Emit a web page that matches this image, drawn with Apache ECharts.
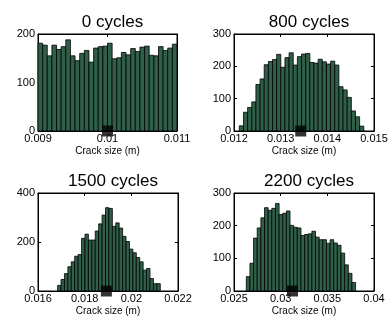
<!DOCTYPE html>
<html>
<head>
<meta charset="utf-8">
<script src="https://cdn.jsdelivr.net/npm/echarts@6/dist/echarts.min.js"></script>
<style>
  html, body { margin: 0; padding: 0; background: #fff; }
  #chart { width: 392px; height: 325px; }
</style>
</head>
<body>
<div id="chart"></div>
<script>
// panel data
var titles = ['0 cycles', '800 cycles', '1500 cycles', '2200 cycles'];
var xMin = [0.009, 0.012, 0.016, 0.025];
var xMax = [0.011, 0.015, 0.022, 0.04];
var xStep = [0.001, 0.001, 0.002, 0.005];
var yMax = [200, 300, 400, 300];
var yStep = [100, 100, 200, 100];

// histogram range of each panel (first bin start, last bin end)
var binLo = [0.009, 0.012114, 0.01684, 0.026318];
var binHi = [0.011, 0.014781, 0.02124, 0.038029];

var counts0 = [181, 177, 155, 177, 168, 174, 188, 155, 145, 160, 166, 142, 171, 174, 175,
               181, 149, 151, 162, 157, 170, 164, 173, 175, 156, 155, 174, 166, 171, 179];
var counts800 = [16, 58, 73, 90, 144, 161, 205, 215, 221, 237, 197, 227, 242, 204, 230,
                 238, 240, 212, 210, 222, 214, 207, 216, 204, 137, 127, 104, 62, 44, 15];
var counts1500 = [23, 47, 71, 99, 119, 142, 149, 215, 232, 208, 208, 245, 274, 310, 340,
                  337, 264, 278, 257, 223, 202, 171, 156, 137, 119, 85, 92, 51, 30, 30];
var counts2200 = [44, 85, 162, 193, 224, 255, 247, 253, 268, 234, 238, 245, 201, 195, 193,
                  170, 173, 175, 183, 165, 157, 157, 146, 157, 147, 140, 116, 80, 54, 26];
var allCounts = [counts0, counts800, counts1500, counts2200];

// black square on the x axis
var markerX = [0.01, 0.01343, 0.01893, 0.03127];

var FONT = '"Liberation Sans", Arial, sans-serif';
var barColor = '#2f5f48';

var grids = [
    {left: 38, top: 34, width: 139, height: 97},
    {left: 234, top: 34, width: 140, height: 97},
    {left: 38, top: 193, width: 140, height: 98},
    {left: 234, top: 193, width: 140, height: 98}
];

var chart = echarts.init(document.getElementById('chart'));

var option = {
    animation: false,
    backgroundColor: '#fff',
    title: [],
    grid: [],
    xAxis: [],
    yAxis: [],
    series: []
};

function fmtX(v) {
    return String(+v.toFixed(4));
}

for (var p = 0; p < 4; p++) {
    var g = grids[p];
    option.grid.push({
        left: g.left, top: g.top, width: g.width, height: g.height,
        show: true, borderColor: '#000', borderWidth: 1
    });
    option.title.push({
        text: titles[p],
        left: g.left + g.width / 2,
        top: g.top - 25,
        textAlign: 'center',
        textStyle: {fontFamily: FONT, fontSize: 17, fontWeight: 'normal', color: '#000'}
    });

    // bottom x axis with labels
    option.xAxis.push({
        type: 'value', gridIndex: p, min: xMin[p], max: xMax[p], interval: xStep[p],
        name: 'Crack size (m)', nameLocation: 'middle', nameGap: 15,
        nameTextStyle: {fontFamily: FONT, fontSize: 10, color: '#000', verticalAlign: 'top'},
        axisLine: {show: true, onZero: false, lineStyle: {color: '#000', width: 1}},
        axisTick: {show: true, inside: true, length: 3, lineStyle: {color: '#000'}},
        axisLabel: {fontFamily: FONT, fontSize: 11, color: '#000', margin: 2,
                    showMinLabel: true, showMaxLabel: true, formatter: fmtX},
        splitLine: {show: false}
    });
    // top x axis, ticks only
    option.xAxis.push({
        type: 'value', gridIndex: p, position: 'top', min: xMin[p], max: xMax[p], interval: xStep[p],
        axisLine: {show: true, onZero: false, lineStyle: {color: '#000', width: 1}},
        axisTick: {show: true, inside: true, length: 3, lineStyle: {color: '#000'}},
        axisLabel: {show: false},
        splitLine: {show: false}
    });
    option.yAxis.push({
        type: 'value', gridIndex: p, min: 0, max: yMax[p], interval: yStep[p],
        axisLine: {show: true, onZero: false, lineStyle: {color: '#000', width: 1}},
        axisTick: {show: true, inside: true, length: 3, lineStyle: {color: '#000'}},
        axisLabel: {fontFamily: FONT, fontSize: 11, color: '#000', margin: 3},
        splitLine: {show: false}
    });
    option.yAxis.push({
        type: 'value', gridIndex: p, position: 'right', min: 0, max: yMax[p], interval: yStep[p],
        axisLine: {show: true, onZero: false, lineStyle: {color: '#000', width: 1}},
        axisTick: {show: true, inside: true, length: 3, lineStyle: {color: '#000'}},
        axisLabel: {show: false},
        splitLine: {show: false}
    });

    var c = allCounts[p];
    var w = (binHi[p] - binLo[p]) / c.length;
    var bins = c.map(function (v, i) {
        return [binLo[p] + i * w, binLo[p] + (i + 1) * w, v];
    });

    option.series.push({
        type: 'custom',
        xAxisIndex: p * 2,
        yAxisIndex: p * 2,
        data: bins,
        encode: {x: [0, 1], y: 2},
        renderItem: function (params, api) {
            var a = api.coord([api.value(0), api.value(2)]);
            var b = api.coord([api.value(1), 0]);
            return {
                type: 'rect',
                shape: {x: a[0], y: a[1], width: b[0] - a[0], height: b[1] - a[1]},
                style: {fill: barColor, stroke: '#000', lineWidth: 0.8}
            };
        }
    });

    option.series.push({
        type: 'scatter',
        xAxisIndex: p * 2,
        yAxisIndex: p * 2,
        symbol: 'rect',
        symbolSize: 11,
        clip: false,
        z: 10,
        itemStyle: {color: '#000'},
        data: [[markerX[p], 0]]
    });
}

chart.setOption(option);
</script>
</body>
</html>
